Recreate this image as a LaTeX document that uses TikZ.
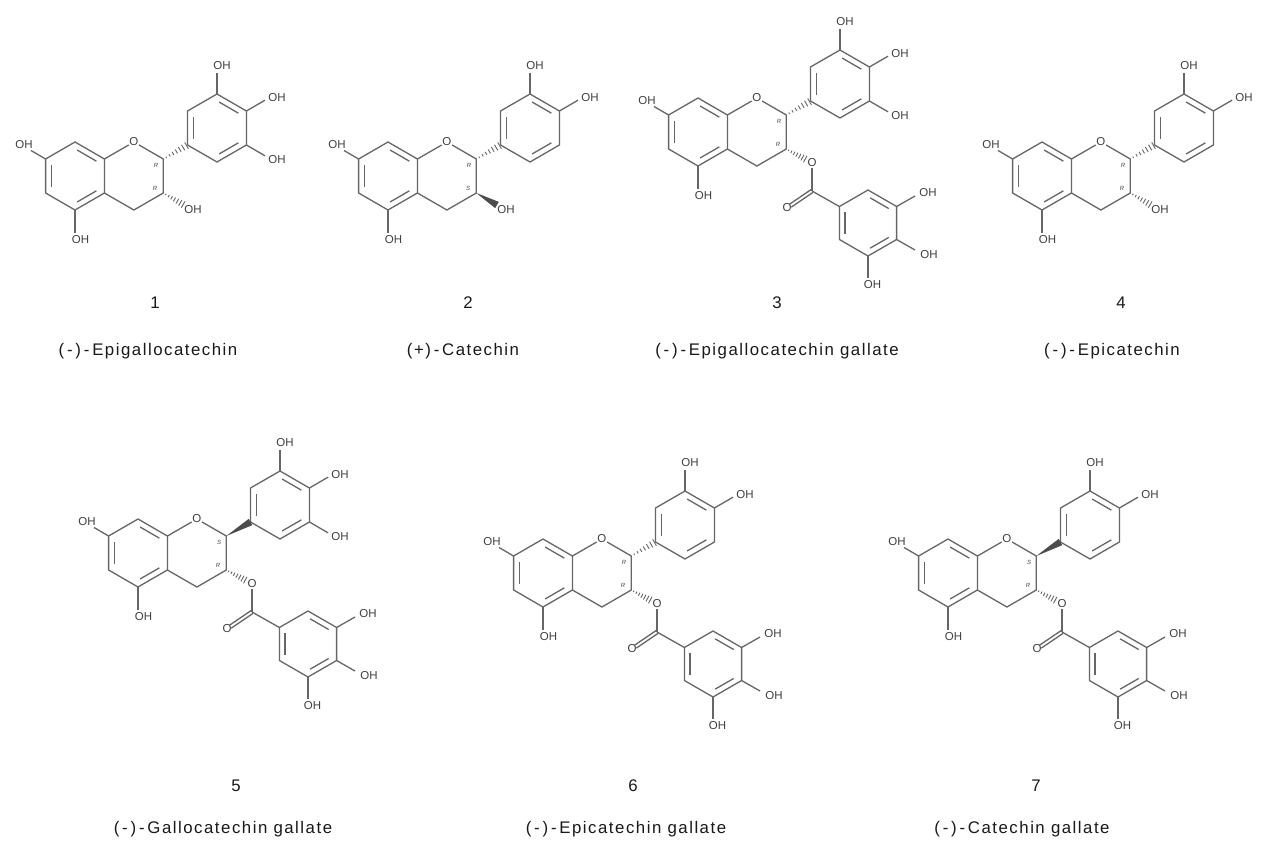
\documentclass[tikz,border=0pt]{standalone}
\usepackage{fontspec}
\setmainfont{Liberation Sans}
\newfontfamily\capfont[LetterSpace=9]{Liberation Sans}
\usetikzlibrary{calc}

\tikzset{
  bond/.style={draw=black!60, line width=1.3pt},
  hash/.style={draw=black!60, line width=0.9pt},
  atom/.style={text=black!75, font=\fontsize{11.5}{11.5}\selectfont, inner sep=0.5pt},
  chir/.style={text=black!72, font=\fontsize{6}{6}\selectfont\itshape, inner sep=0pt},
  caption/.style={text=black!90, font=\capfont\fontsize{16.8}{16.8}\selectfont},
}

\newcommand\dblin[3]{\draw[bond, shorten <=2.5pt, shorten >=2.5pt] ($(#1)!0.8!(#2)$) -- ($(#1)!0.8!(#3)$);}
\newcommand\hashbond[2]{%
  \foreach \t in {0.12,0.26,...,0.98}{%
    \pgfmathsetmacro\hw{0.4+3.4*\t}%
    \coordinate (hm) at ($(#1)!\t!(#2)$);
    \draw[hash] ($(hm)!\hw pt!90:(#2)$) -- ($(hm)!\hw pt!-90:(#2)$);
  }}
\newcommand\boldbond[2]{\fill[black!70] (#1) -- ($(#2)!3.6pt!90:(#1)$) -- ($(#2)!3.6pt!-90:(#1)$) -- cycle;}
\newcommand\stereo[2]{\node[chir] (s2) at (81,-11) {#1}; \node[chir] (s3) at (80,12) {#2};}

\newcommand\flavan{%
  \coordinate (ca) at (0,0);
  \coordinate (a1) at (0,-34);     \coordinate (a2) at (29.4,-17);
  \coordinate (a3) at (29.4,17);   \coordinate (a4) at (0,34);
  \coordinate (a5) at (-29.4,17);  \coordinate (a6) at (-29.4,-17);
  \node[atom] (o1) at (58.9,-34) {O};
  \coordinate (c2) at (88.3,-17);  \coordinate (c3) at (88.3,17);
  \coordinate (c4) at (58.9,34);
  \coordinate (cb) at (142,-48);
  \coordinate (b1) at (112.5,-31); \coordinate (b2) at (112.5,-65);
  \coordinate (b3) at (142,-82);   \coordinate (b4) at (171.4,-65);
  \coordinate (b5) at (171.4,-31); \coordinate (b6) at (142,-14);
  \draw[bond] (a1) -- (a2) -- (a3) -- (a4) -- (a5) -- (a6) -- cycle;
  \draw[bond] (a2) -- (o1) -- (c2) -- (c3) -- (c4) -- (a3);
  \dblin{ca}{a5}{a6} \dblin{ca}{a1}{a2} \dblin{ca}{a3}{a4}
  \draw[bond] (b1) -- (b2) -- (b3) -- (b4) -- (b5) -- (b6) -- cycle;
  \dblin{cb}{b1}{b2} \dblin{cb}{b3}{b4} \dblin{cb}{b5}{b6}
  \coordinate (x7) at (-44,-25.5); \node[atom] (oh7) at (-51,-31) {OH};
  \draw[bond] (a6) -- (x7);
  \coordinate (x5) at (0,56.5); \node[atom] (oh5) at (5.5,63.5) {OH};
  \draw[bond] (a4) -- (x5);
  \coordinate (y3) at (142,-103); \node[atom] (oh3b) at (147,-110) {OH};
  \draw[bond] (b3) -- (y3);
  \coordinate (y4) at (190,-75.8); \node[atom] (oh4b) at (202,-78) {OH};
  \draw[bond] (b4) -- (y4);
}
\newcommand\fiveoh{%
  \coordinate (y5) at (190,-20.2); \node[atom] (oh5b) at (202,-16) {OH};
  \draw[bond] (b5) -- (y5);
}
\newcommand\threeoh{%
  \coordinate (x3) at (109,29); \node[atom] (oh3) at (118,34) {OH};
}
\newcommand\gallate{%
  \coordinate (x3) at (108,27.5);
  \hashbond{c3}{x3}
  \node[atom] (eo) at (114,31) {O};
  \coordinate (ck) at (114,59);
  \node[atom] (ko) at (89,76) {O};
  \draw[bond] (eo) -- (ck);
  \draw[bond, shorten >=4pt] ($(ck)!1.7pt!90:(ko)$) -- ($(ko)!1.7pt!-90:(ck)$);
  \draw[bond, shorten >=4pt] ($(ck)!1.7pt!-90:(ko)$) -- ($(ko)!1.7pt!90:(ck)$);
  \coordinate (cg) at (170,91);
  \coordinate (g1) at (170,58);      \coordinate (g2) at (198.6,74.5);
  \coordinate (g3) at (198.6,107.5); \coordinate (g4) at (170,124);
  \coordinate (g5) at (141.4,107.5); \coordinate (g6) at (141.4,74.5);
  \draw[bond] (ck) -- (g6);
  \draw[bond] (g1) -- (g2) -- (g3) -- (g4) -- (g5) -- (g6) -- cycle;
  \dblin{cg}{g5}{g6} \dblin{cg}{g1}{g2} \dblin{cg}{g3}{g4}
  \coordinate (z2) at (217,64);  \node[atom] (ohg2) at (230,61) {OH};
  \draw[bond] (g2) -- (z2);
  \coordinate (z3) at (217,118); \node[atom] (ohg3) at (231,123) {OH};
  \draw[bond] (g3) -- (z3);
  \coordinate (z4) at (170,146); \node[atom] (ohg4) at (174.5,153) {OH};
  \draw[bond] (g4) -- (z4);
}

\begin{document}
\begin{tikzpicture}[x=1pt, y=-1pt]
  \fill[white] (0,0) rectangle (1280,864);

  \begin{scope}[shift={(75,176)}]
    \flavan \fiveoh \hashbond{c2}{b1} \threeoh \hashbond{c3}{x3} \stereo{R}{R}
  \end{scope}
  \begin{scope}[shift={(388,176)}]
    \flavan \hashbond{c2}{b1} \threeoh \boldbond{c3}{x3} \stereo{R}{S}
  \end{scope}
  \begin{scope}[shift={(698,132)}]
    \flavan \fiveoh \hashbond{c2}{b1} \gallate \stereo{R}{R}
  \end{scope}
  \begin{scope}[shift={(1042,176)}]
    \flavan \hashbond{c2}{b1} \threeoh \hashbond{c3}{x3} \stereo{R}{R}
  \end{scope}
  \begin{scope}[shift={(138,553)}]
    \flavan \fiveoh \boldbond{c2}{b1} \gallate \stereo{S}{R}
  \end{scope}
  \begin{scope}[shift={(543,573)}]
    \flavan \hashbond{c2}{b1} \gallate \stereo{R}{R}
  \end{scope}
  \begin{scope}[shift={(948,573)}]
    \flavan \boldbond{c2}{b1} \gallate \stereo{S}{R}
  \end{scope}

  \node[caption] (num1) at (155,303) {1};
  \node[caption] (num2) at (468,303) {2};
  \node[caption] (num3) at (777,303) {3};
  \node[caption] (num4) at (1121,303) {4};
  \node[caption] (num5) at (236,786) {5};
  \node[caption] (num6) at (633,786) {6};
  \node[caption] (num7) at (1036,786) {7};
  \node[caption] (cap1) at (148,351) {(\,-\,)\,-\,Epigallocatechin};
  \node[caption] (cap2) at (463,351) {(+)\,-\,Catechin};
  \node[caption] (cap3) at (777,351) {(\,-\,)\,-\,Epigallocatechin gallate};
  \node[caption] (cap4) at (1112,351) {(\,-\,)\,-\,Epicatechin};
  \node[caption] (cap5) at (223,829) {(\,-\,)\,-\,Gallocatechin gallate};
  \node[caption] (cap6) at (626,829) {(\,-\,)\,-\,Epicatechin gallate};
  \node[caption] (cap7) at (1022,829) {(\,-\,)\,-\,Catechin gallate};
\end{tikzpicture}
\end{document}
